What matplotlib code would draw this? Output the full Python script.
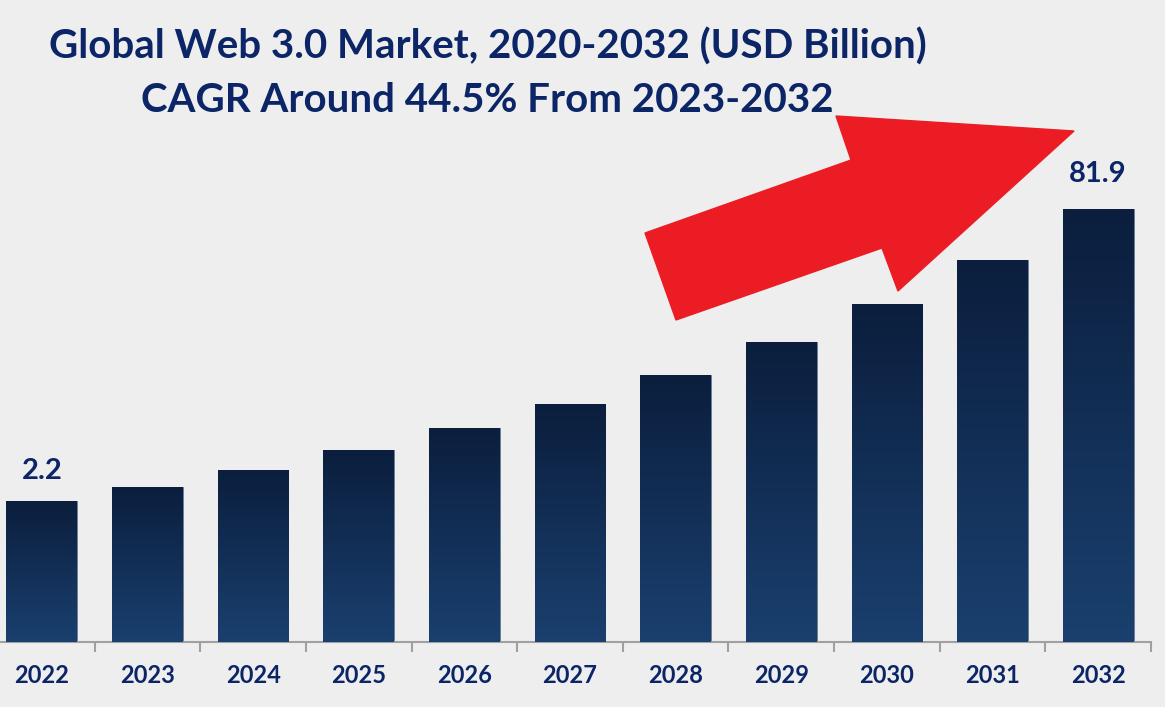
#!/usr/bin/env python3
"""
Global Web 3.0 market bar chart (2022-2032)
"""

import numpy as np
import matplotlib
matplotlib.use('Agg')
import matplotlib.pyplot as plt
from matplotlib.patches import Polygon
from matplotlib.colors import LinearSegmentedColormap

years = ['2022', '2023', '2024', '2025', '2026', '2027',
         '2028', '2029', '2030', '2031', '2032']
# bar heights as drawn in the picture (not to scale with the values)
bar_heights = [141, 155, 172, 192, 214, 238, 267, 300, 338, 382, 433]
# value labels shown only on the first and last bar
value_labels = {0: '2.2', 10: '81.9'}

title_1 = 'Global Web 3.0 Market, 2020-2032 (USD Billion)'
title_2 = 'CAGR Around 44.5% From 2023-2032'

NAVY = '#0b2566'
BG = '#eeeeee'
W, H = 1165, 707

plt.rcParams['font.family'] = ['Lato', 'DejaVu Sans']

fig = plt.figure(figsize=(W / 100, H / 100), dpi=100, facecolor=BG)

# axes: baseline at 642 px from top, category range -0.5..10.5 spans -11..1151 px
left, right = -11, 1151
base = H - 642
ax = fig.add_axes([left / W, base / H, (right - left) / W, (H - base) / H])
ax.set_facecolor(BG)
ax.set_xlim(-0.5, len(years) - 0.5)
ax.set_ylim(0, H - base)

x = np.arange(len(years))
bars = ax.bar(x, bar_heights, width=0.67, color='#15305a',
              edgecolor='#6a7c95', linewidth=0.6, zorder=2)

# vertical gradient inside each bar
grad = np.linspace(0, 1, 256).reshape(-1, 1)
cmap = LinearSegmentedColormap.from_list('navy', ['#1a406f', '#0b1e3d'])
for b in bars:
    bx, by = b.get_x(), b.get_y()
    bw, bh = b.get_width(), b.get_height()
    im = ax.imshow(grad, extent=(bx, bx + bw, by, by + bh), origin='lower',
                   cmap=cmap, aspect='auto', zorder=3)
    im.set_clip_path(b)

for i, txt in value_labels.items():
    ax.text(x[i], bar_heights[i] + (17 if i == 0 else 22), txt,
            ha='center', va='bottom', fontsize=21, fontweight='bold',
            color=NAVY, zorder=4)

# category axis
for s in ['top', 'right', 'left']:
    ax.spines[s].set_visible(False)
ax.spines['bottom'].set_color('#a0a0a0')
ax.spines['bottom'].set_linewidth(1.5)
ax.set_yticks([])
ax.set_xticks(x)
ax.set_xticklabels(years, fontsize=17, fontweight='bold', color=NAVY)
ax.tick_params(axis='x', which='major', length=0, pad=16)
ax.set_xticks(np.arange(len(years) + 1) - 0.5, minor=True)
ax.tick_params(axis='x', which='minor', length=7, width=1.5, color='#a0a0a0')
ax.set_xlim(-0.5, len(years) - 0.5)

# titles
fig.text(488 / W, 1 - 47 / H, title_1, ha='center', va='center',
         fontsize=29, fontweight='bold', color=NAVY)
fig.text(487 / W, 1 - 101 / H, title_2, ha='center', va='center',
         fontsize=29, fontweight='bold', color=NAVY)

# big red arrow (decoration)
arrow_px = [(676, 320), (645, 233), (851, 160), (836, 116),
            (1074, 131), (898, 291), (882, 248)]
arrow = Polygon([(px / W, 1 - py / H) for px, py in arrow_px],
                closed=True, transform=fig.transFigure,
                facecolor='#ec1c24', edgecolor='#ec1c24', zorder=5)
fig.patches.append(arrow)

fig.savefig('out.png', dpi=100, facecolor=BG)
